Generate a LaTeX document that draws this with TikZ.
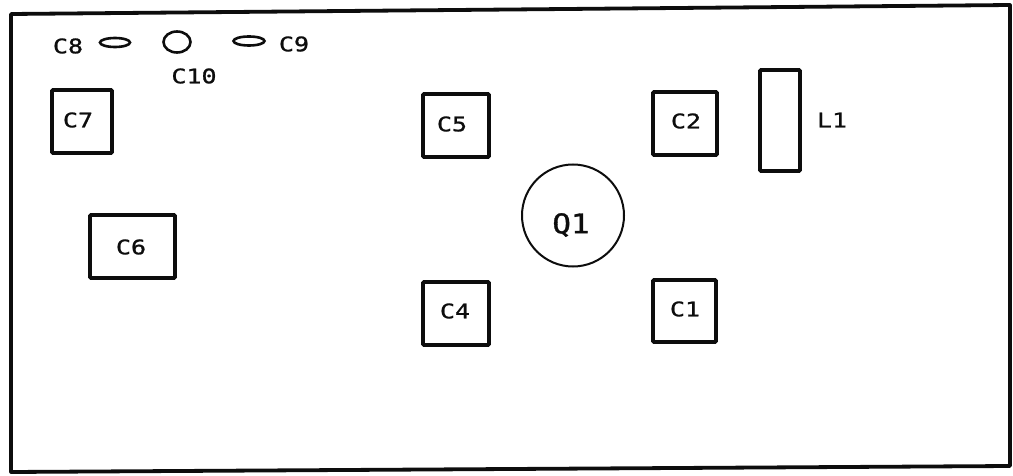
\documentclass[tikz,border=0pt]{standalone}
\usepackage{fontspec}
\setmainfont{DejaVu Sans Mono}
\newfontfamily\lbl[FakeStretch=1.25,FakeBold=1.2]{DejaVu Sans Mono}
\newfontfamily\lblthin[FakeStretch=1.25,FakeBold=0.4]{DejaVu Sans Mono}
\newfontfamily\qlbl[FakeStretch=1.15,FakeBold=1.2]{DejaVu Sans Mono}
\usetikzlibrary{shapes.geometric}
\begin{document}
\begin{tikzpicture}[x=1pt,y=-1pt,
  comp/.style={draw=black!95,line width=3.6pt,inner sep=0pt,rounded corners=1pt},
  lab/.style={font=\lbl\fontsize{20}{22}\selectfont,text=black!95,inner sep=0pt},
  disc/.style={draw=black!95,line width=2.6pt,ellipse,inner sep=0pt}]
\useasboundingbox (0,0) rectangle (1013,476);
\fill[white] (0,0) rectangle (1013,476);
\draw[black!95,line width=3.8pt,line join=round] (11,14) -- (1010,5) -- (1010,466) -- (11,472) -- cycle;
\node[comp,minimum width=60pt,minimum height=63pt] (c7) at (82,121.5) {};
\node[comp,minimum width=85pt,minimum height=63pt] (c6) at (132.5,246.5) {};
\node[comp,minimum width=66pt,minimum height=63pt] (c5) at (456,125.5) {};
\node[comp,minimum width=66pt,minimum height=63pt] (c4) at (456,313.5) {};
\node[comp,minimum width=64pt,minimum height=63pt] (c2) at (685,123.5) {};
\node[comp,minimum width=63pt,minimum height=62pt] (c1) at (684.5,311) {};
\node[comp,minimum width=40pt,minimum height=101pt] (l1) at (780,120.5) {};
\node[draw=black!95,line width=2pt,circle,minimum size=102pt,inner sep=0pt] (q1) at (573,215.5) {};
\node[disc,minimum width=30pt,minimum height=9pt] (c8) at (115,42.5) {};
\node[disc,minimum width=27pt,minimum height=21pt] (c10) at (177,42) {};
\node[disc,minimum width=31pt,minimum height=9pt] (c9) at (249,41) {};
\node[lab] (c7t) at (78,120) {C7};
\node[lab] (c6t) at (131,247) {C6};
\node[lab] (c5t) at (452,124) {C5};
\node[lab] (c4t) at (455,311) {C4};
\node[lab] (c2t) at (686,121) {C2};
\node[lab] (c1t) at (685,309) {C1};
\node[lab,font=\lblthin\fontsize{20}{22}\selectfont] (l1t) at (832,120) {L1};
\node[font=\qlbl\fontsize{27}{30}\selectfont,text=black!95,inner sep=0pt] (q1t) at (571,225) {Q1};
\node[lab] (c8t) at (68,46) {C8};
\node[lab] (c9t) at (294,44) {C9};
\node[lab] (c10t) at (194,76) {C10};
\end{tikzpicture}
\end{document}
